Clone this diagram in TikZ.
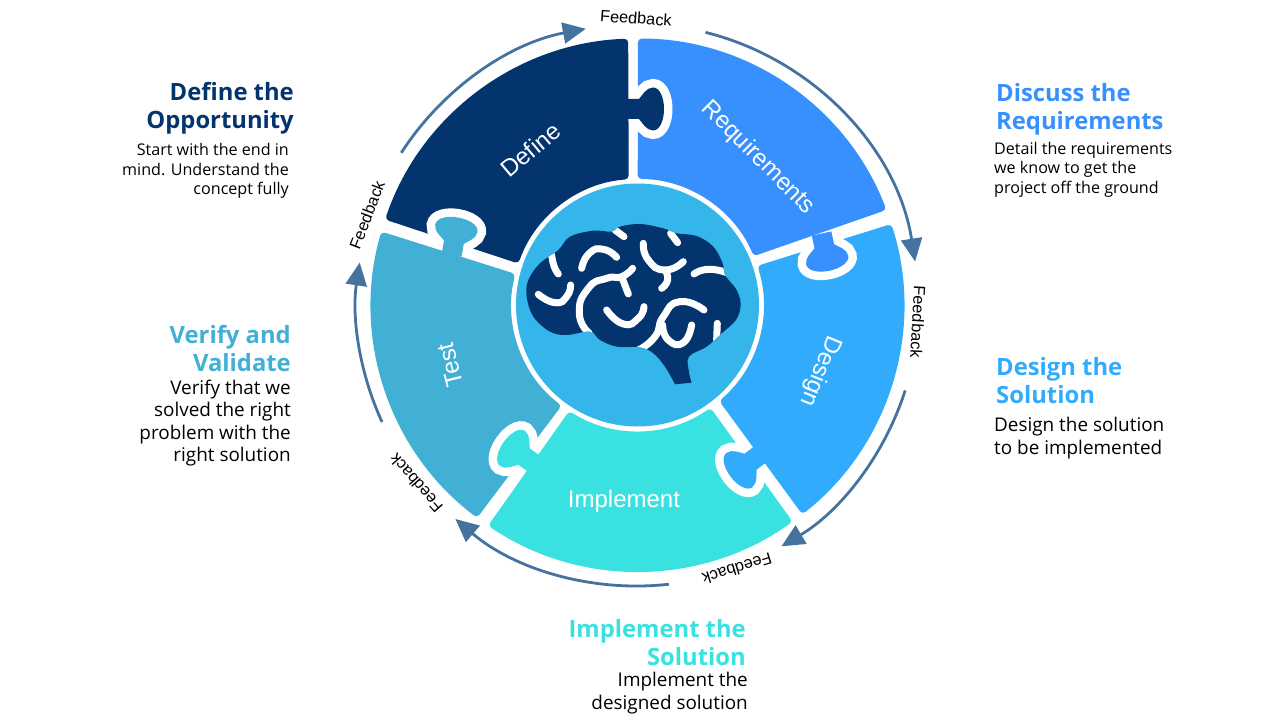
\documentclass[tikz,border=0pt]{standalone}
\usepackage{fontspec}
\usetikzlibrary{arrows.meta}
\setmainfont{Open Sans}
\newfontfamily\shapefont{Liberation Sans}

\definecolor{defineblue}{HTML}{03346E}
\definecolor{reqblue}{HTML}{3790FD}
\definecolor{designblue}{HTML}{33ABFD}
\definecolor{implementcyan}{HTML}{3AE1E1}
\definecolor{testblue}{HTML}{42B0D4}
\definecolor{discblue}{HTML}{35B6EB}
\definecolor{loopblue}{HTML}{44739F}

\tikzset{
  piece/.style={rounded corners=4pt},
  tabcut/.style={draw=white,line width=17pt},
  shapelabel/.style={text=white,inner sep=0pt,font=\shapefont\fontsize{24}{28}\selectfont},
  feedback/.style={inner sep=0pt,font=\shapefont\fontsize{16.3}{18}\selectfont},
  titletext/.style={inner sep=0pt,align=#1,font=\bfseries\fontsize{23.8}{28}\selectfont},
  smalltext/.style={inner sep=0pt,align=#1,font=\fontsize{16.1}{19.5}\selectfont},
  bodytext/.style={inner sep=0pt,align=#1,font=\fontsize{18.9}{22.3}\selectfont},
  brainline/.style={draw=white,line width=7pt,line cap=round,smooth,tension=1}
}

\begin{document}
\begin{tikzpicture}[x=1pt,y=1pt]
    \useasboundingbox (-637.5,-415) rectangle (642.5,305);
    \def\outerR{266.5pt}
    \def\innerR{126pt}
    \def\tabedge{(5,10) -- (11,10) .. controls (14,13) and (18,21.5) .. (25,21.5) .. controls (32,21.5) and (36,11) .. (36,0) .. controls (36,-11) and (32,-21.5) .. (25,-21.5) .. controls (18,-21.5) and (14,-13) .. (11,-10) -- (5,-10)}
    \def\puzzletab#1#2#3{
      \draw[tabcut,shift={#2},rotate=#3] \tabedge;
      \fill[fill=#1,shift={#2},rotate=#3] (-2,-10) -- (-2,10) -- \tabedge -- cycle;
    }

    % the five pieces
    \fill[piece,fill=defineblue] (92:\outerR) arc[start angle=92,end angle=161.3,radius=\outerR] -- (160.8:\innerR) arc[start angle=160.8,end angle=94,radius=\innerR] -- cycle;
    \fill[piece,fill=reqblue] (89.9:\outerR) arc[start angle=89.9,end angle=20.9,radius=\outerR] -- (22.8:\innerR) arc[start angle=22.8,end angle=89.9,radius=\innerR] -- cycle;
    \fill[piece,fill=designblue] (17.7:\outerR) arc[start angle=17.7,end angle=-51.8,radius=\outerR] -- (-49.6:\innerR) arc[start angle=-49.6,end angle=18.1,radius=\innerR] -- cycle;
    \fill[piece,fill=implementcyan] (-54.4:\outerR) arc[start angle=-54.4,end angle=-124.1,radius=\outerR] -- (-122.8:\innerR) arc[start angle=-122.8,end angle=-54.6,radius=\innerR] -- cycle;
    \fill[piece,fill=testblue] (233:\outerR) arc[start angle=233,end angle=164,radius=\outerR] -- (165.7:\innerR) arc[start angle=165.7,end angle=233,radius=\innerR] -- cycle;

    % the tabs, each one reaches into the next piece
    \puzzletab{defineblue}{(-9.5,196)}{0}
    \puzzletab{reqblue}{(184.5,69.5)}{-78}
    \puzzletab{designblue}{(121.9,-150)}{217}
    \puzzletab{implementcyan}{(-104.5,-158)}{144.6}
    \puzzletab{testblue}{(-185.5,52)}{80}

    \fill[white] (0,0) circle[radius=125.5pt];
    \fill[discblue] (0,0) circle[radius=121.5pt];

    % brain
    \begin{scope}[shift={(-137.5,105)},x=.3333pt,y=-.3333pt]
      \def\brainshape{plot[smooth,tension=.6] coordinates {(575,548) (567,515) (567,470) (620,440) (665,400) (708,360) (722,315) (710,270) (675,225) (668,190) (640,140) (590,108) (530,100) (490,85) (420,72) (360,80) (335,95) (280,92) (210,110) (175,150) (120,190) (85,240) (80,290) (100,350) (150,395) (200,405) (270,395) (300,420) (350,440) (420,442) (460,460) (495,500) (525,553)} -- cycle}
      \fill[defineblue] \brainshape;
      \clip \brainshape;
      \draw[brainline] plot coordinates {(345,90) (372,110)}
        plot coordinates {(512,100) (533,128)}
        plot coordinates {(155,165) (162,198) (175,222)}
        plot coordinates {(115,283) (165,308) (200,290) (212,255)}
        plot coordinates {(245,205) (268,160) (310,148) (350,172)}
        plot coordinates {(430,130) (445,180) (495,210) (550,185)}
        plot coordinates {(495,210) (503,240) (485,265)}
        plot coordinates {(582,222) (625,208) (680,218)}
        plot coordinates {(268,400) (238,340) (265,265) (320,235) (365,230) (398,205)}
        plot coordinates {(365,230) (385,282)}
        plot coordinates {(320,330) (370,372) (415,355) (432,320)}
        plot coordinates {(415,450) (465,410) (490,350) (540,305) (612,330)}
        plot coordinates {(488,375) (505,420) (550,428) (575,375)}
        plot coordinates {(652,370) (650,420)};
    \end{scope}

    % arrows around the wheel
    \foreach \a/\b in {147.2/100.6,76/8.9,-17.7/-59.2,-83.6/-130.4,204.6/171.3}
      \draw[draw=loopblue,line width=2.8pt,-{Triangle[length=23pt,width=21pt]}] (\a:281pt) arc[start angle=\a,end angle=\b,radius=281pt];

    \node[feedback,rotate=-4] (fbtop) at (-1.5,287) {Feedback};
    \node[feedback,rotate=-93] (fbright) at (280.5,-17) {Feedback};
    \node[feedback,rotate=197] (fbbottom) at (99.5,-264) {Feedback};
    \node[feedback,rotate=131] (fbdown) at (-221.5,-178) {Feedback};
    \node[feedback,rotate=69] (fbleft) at (-270.5,90) {Feedback};

    \node[shapelabel,rotate=40] (define) at (-107,155) {Define};
    \node[shapelabel,rotate=-45] (requirements) at (120.5,147) {Requirements};
    \node[shapelabel,rotate=-112] (design) at (182.5,-66) {Design};
    \node[shapelabel] (implement) at (-13.5,-196) {Implement};
    \node[shapelabel,rotate=104] (test) at (-187.5,-60) {Test};

    \node[titletext=right,text=defineblue,anchor=east] (definetitle) at (-343.5,197) {Define the\\Opportunity};
    \node[smalltext=right,anchor=east] (definetext) at (-348.5,134) {Start with the end in\\mind. Understand the\\concept fully};
    \node[titletext=left,text=reqblue,anchor=west] (reqtitle) at (358.5,196) {Discuss the\\Requirements};
    \node[smalltext=left,anchor=west] (reqtext) at (356.5,135.5) {Detail the requirements\\we know to get the\\project off the ground};
    \node[titletext=left,text=designblue,anchor=west] (designtitle) at (358.5,-76) {Design the\\Solution};
    \node[bodytext=left,anchor=west] (designtext) at (356.5,-133) {Design the solution\\to be implemented};
    \node[titletext=right,text=implementcyan,anchor=east] (implementtitle) at (108.5,-338) {Implement the\\Solution};
    \node[bodytext=right,anchor=east] (implementtext) at (110.5,-388) {Implement the\\designed solution};
    \node[titletext=right,text=testblue,anchor=east] (testtitle) at (-346.5,-44) {Verify and\\Validate};
    \node[bodytext=right,anchor=east] (testtext) at (-346.5,-118) {Verify that we\\solved the right\\problem with the\\right solution};
\end{tikzpicture}
\end{document}
